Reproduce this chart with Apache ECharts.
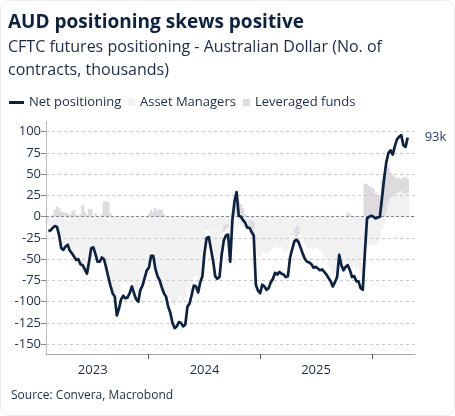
<!DOCTYPE html>
<html><head><meta charset="utf-8">
<script src="https://cdn.jsdelivr.net/npm/echarts@6/dist/echarts.min.js"></script>
<style>
html,body{margin:0;padding:0;background:#fff}
#c{width:455px;height:416px;position:absolute;left:0;top:0}
#frame{position:absolute;left:0;top:0;width:455px;height:416px;box-sizing:border-box;border:1px solid #ededed;border-radius:9px;pointer-events:none}
</style>
</head><body><div id="c"></div><div id="frame"></div><script>
// weekly CFTC data, first week
const startDate = [2023, 1, 7];
// Net positioning (thousands of contracts)
const netPositioning = [
-17,-16,-13,-11,-12,-22,-37,-39,-35,-33,
-40,-43,-47,-51,-50,-56,-57,-62,-67,-53,
-37,-36,-44,-53,-53,-48,-50,-60,-71,-81,
-90,-94,-116,-108,-97,-93,-96,-95,-90,-82,
-90,-97,-100,-86,-81,-72,-63,-60,-46,-46,
-61,-70,-75,-83,-90,-94,-106,-113,-125,-131,
-129,-124,-125,-129,-127,-106,-102,-92,-81,-82,
-89,-77,-70,-42,-25,-24,-38,-52,-70,-73,
-71,-45,-28,-22,-21,-53,-5,18,29,1,
0,-4,-7,-13,-13,-18,-22,-80,-87,-90,
-80,-82,-86,-84,-77,-73,-66,-68,-65,-67,
-68,-71,-70,-48,-38,-29,-27,-30,-37,-44,
-50,-53,-54,-56,-60,-59,-61,-63,-62,-65,
-68,-72,-76,-82,-77,-71,-45,-57,-63,-59,
-57,-63,-71,-70,-76,-76,-84,-86,-42,-2,
0,1,0,-2,-1,0,22,45,64,75,
78,73,83,91,94,96,84,82,93];
// Asset Managers
const assetManagers = [
-10,-10,-11,-10,-11,-20,-34,-37,-35,-36,
-39,-42,-46,-52,-52,-60,-62,-66,-70,-62,
-50,-42,-44,-46,-50,-48,-52,-58,-70,-80,
-88,-90,-98,-90,-78,-75,-77,-79,-77,-74,
-83,-90,-90,-80,-77,-70,-62,-58,-50,-50,
-60,-68,-73,-81,-88,-90,-96,-96,-103,-104,
-99,-92,-93,-100,-95,-84,-88,-80,-70,-69,
-79,-72,-62,-32,-12,-16,-26,-36,-48,-50,
-50,-26,-10,-8,-9,-22,-6,2,6,-8,
-10,-12,-12,-8,-4,-4,-6,-40,-46,-46,
-42,-42,-42,-42,-40,-37,-33,-36,-36,-36,
-40,-41,-42,-30,-20,-14,-10,-12,-18,-26,
-33,-37,-37,-37,-39,-36,-37,-40,-41,-46,
-50,-57,-62,-68,-66,-62,-50,-48,-55,-51,
-56,-60,-60,-55,-62,-60,-68,-78,-28,-33,
-33,-32,-34,-33,-30,-25,-15,-8,5,15,
22,24,26,28,29,30,28,27,28];
// Leveraged funds
const leveragedFunds = [
-5,-4,2,8,12,10,6,5,5,4,
2,6,8,2,-4,3,14,6,2,9,
9,-6,4,-7,-2,3,18,18,17,4,
1,-3,-10,-14,-18,-17,-18,-15,-12,-8,
-6,-5,-7,-6,-3,-2,1,4,8,6,
10,7,9,8,3,-2,-8,-15,-20,-25,
-28,-31,-30,-27,-30,-22,-12,-10,-9,-11,
-8,-3,-6,-10,-14,-8,-10,-15,-20,-22,
-19,-21,-18,-15,-12,-10,6,12,20,18,
15,10,3,-8,-14,-20,-22,-35,-39,-42,
-40,-38,-42,-40,-36,-35,-32,-31,-28,-30,
-27,-29,-26,-23,-22,-20,-24,-21,-18,-17,
-16,-15,-16,-18,-20,-22,-23,-22,-20,-18,
-17,-14,-12,-11,-9,-8,-7,-8,-6,-7,
5,3,-10,-14,-13,-15,-14,-6,39,38,
36,35,33,28,24,25,42,51,55,58,
52,49,47,45,46,44,46,47,45];
const yTicks = [-150,-125,-100,-75,-50,-25,0,25,50,75,100];
const yearLabelDates = ['2023-07-02','2024-07-02','2025-07-02'];
const yearTickDates = ['2024-01-01','2025-01-01','2026-01-01'];
const axisStart = '2023-01-30', axisEnd = '2026-05-22';

const ts = s => { const p = s.split('-').map(Number); return Date.UTC(p[0], p[1]-1, p[2]); };
const week = i => Date.UTC(startDate[0], startDate[1], startDate[2]) + i*7*86400000;
const pair = arr => arr.map((v,i) => [week(i), v]);

const FONT = '"Segoe UI","Open Sans","Noto Sans",sans-serif';
const NAVY = '#0d2140';
const TXT = '#1b2b48';

const gridLines = yTicks.map(v => v === 0
  ? {yAxis: v, lineStyle: {color:'#7e889b', type:[3,2], width:1}}
  : {yAxis: v});

const chart = echarts.init(document.getElementById('c'), null, {renderer:'canvas'});

chart.setOption({
  animation: false,
  textStyle: {fontFamily: FONT},
  title: [
    {text:'AUD positioning skews positive', left:8, top:11, padding:0,
     textStyle:{fontSize:19, fontWeight:'bold', color:NAVY, fontFamily:FONT, lineHeight:23}},
    {text:'CFTC futures positioning - Australian Dollar (No. of\ncontracts, thousands)', left:8, top:36, padding:0,
     textStyle:{fontSize:16, fontWeight:'normal', color:TXT, fontFamily:FONT, lineHeight:23}},
    {text:'Source: Convera, Macrobond', left:11, top:389, padding:0,
     textStyle:{fontSize:12, fontWeight:'normal', color:TXT, fontFamily:FONT, lineHeight:14}}
  ],
  legend: [
    {data:['Net positioning'], left:9, top:96, padding:0, icon:'rect', itemWidth:15, itemHeight:3,
     textStyle:{fontSize:13, color:TXT, fontFamily:FONT}},
    {data:['Asset Managers','Leveraged funds'], left:128, top:96, padding:0, icon:'rect', itemWidth:7, itemHeight:7, itemGap:7,
     textStyle:{fontSize:13, color:TXT, fontFamily:FONT}}
  ],
  grid: {left:46, right:40, top:121.5, bottom:62, containLabel:false, outerBoundsMode:'none'},
  xAxis: {
    type:'value', min:ts(axisStart), max:ts(axisEnd), scale:true,
    axisLine:{show:true, onZero:false, lineStyle:{color:'#a9a9a9', width:1}},
    axisTick:{show:true, length:5, lineStyle:{color:'#555'}, customValues: yearTickDates.map(ts)},
    axisLabel:{show:true, margin:10, fontSize:13, color:TXT, fontFamily:FONT,
      customValues: yearLabelDates.map(ts),
      formatter: v => String(new Date(v).getUTCFullYear())},
    splitLine:{show:false}
  },
  yAxis: {
    type:'value', min:-161.5, max:112,
    axisLine:{show:true, lineStyle:{color:'#bdbdbd', width:1}},
    axisTick:{show:true, length:5, lineStyle:{color:'#888'}, customValues: yTicks},
    axisLabel:{show:true, margin:5, fontSize:13, color:TXT, fontFamily:FONT, customValues: yTicks},
    splitLine:{show:false}
  },
  series: [
    {name:'Leveraged funds', type:'bar', stack:'pos', data:pair(leveragedFunds), barWidth:2.6,
     itemStyle:{color:'#dedbde'}, emphasis:{disabled:true}},
    {name:'Asset Managers', type:'bar', stack:'pos', data:pair(assetManagers), barWidth:2.6,
     itemStyle:{color:'#f1f1f1'}, emphasis:{disabled:true}},
    {name:'Net positioning', type:'line', z:4, data:pair(netPositioning), showSymbol:false, symbol:'none',
     lineStyle:{color:NAVY, width:2.7, join:'round'}, itemStyle:{color:NAVY},
     markLine:{silent:true, z:3, symbol:['none','none'], label:{show:false},
       lineStyle:{type:[3,3], color:'#c9c9c9', width:1}, data:gridLines},
     endLabel:{show:true, distance:17, fontSize:13, color:'#2d3a66', fontFamily:FONT,
       formatter: p => Math.round(p.value[1]) + 'k'}}
  ]
});
</script></body></html>
